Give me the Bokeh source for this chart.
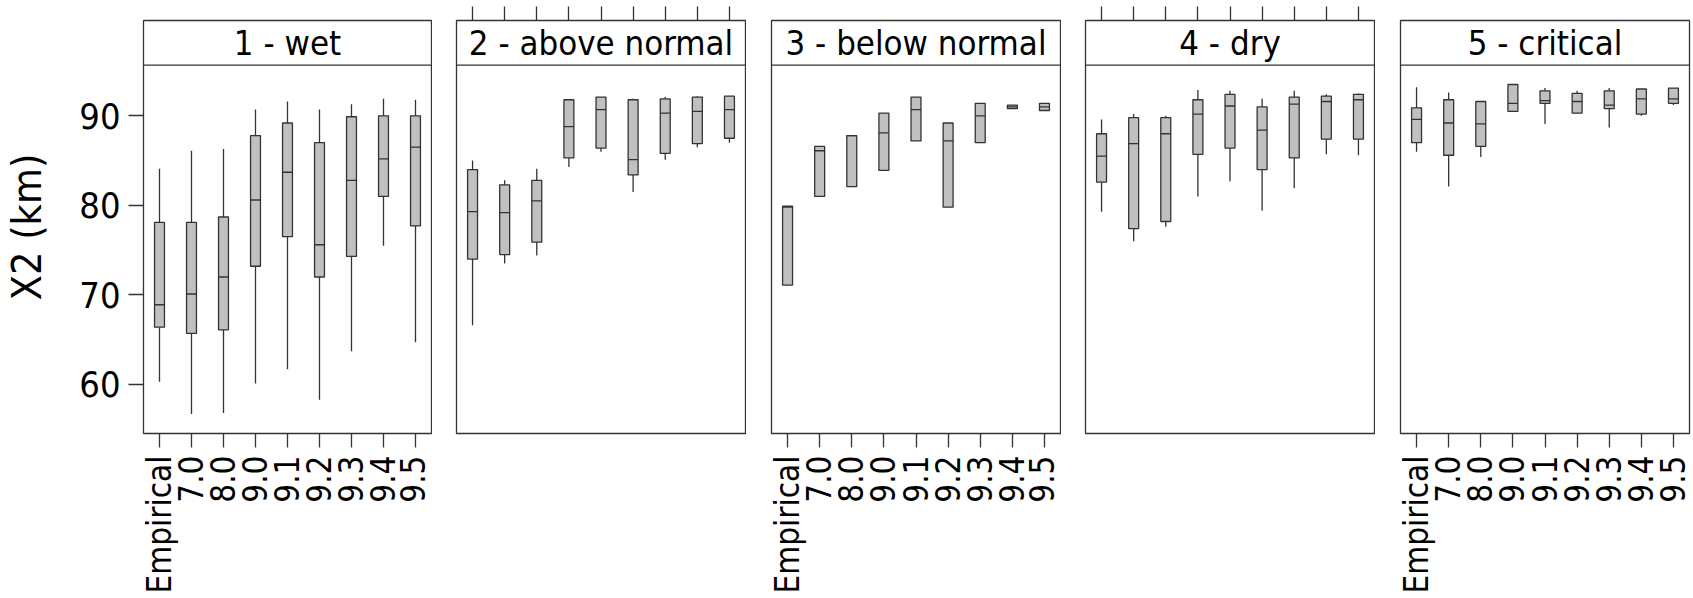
import numpy as np
from bokeh.plotting import figure
from bokeh.models import Range1d, FixedTicker, Span
from bokeh.layouts import row
from bokeh.embed import file_html
from bokeh.resources import INLINE
from bokeh.core.properties import value

categories = ["Empirical", "7.0", "8.0", "9.0", "9.1", "9.2", "9.3", "9.4", "9.5"]
panels = ["1 - wet", "2 - above normal", "3 - below normal", "4 - dry", "5 - critical"]
y_ticks = [60, 70, 80, 90]

# whisker low, lower quartile, median, upper quartile, whisker high
wet_lo  = [60.3, 56.7, 56.8, 60.1, 61.7, 58.3, 63.7, 75.5, 64.7]
wet_q1  = [66.4, 65.7, 66.1, 73.2, 76.5, 72.0, 74.3, 81.0, 77.7]
wet_med = [68.9, 70.1, 72.0, 80.6, 83.7, 75.6, 82.8, 85.2, 86.5]
wet_q3  = [78.1, 78.1, 78.7, 87.8, 89.2, 87.0, 89.9, 90.0, 90.0]
wet_hi  = [84.1, 86.1, 86.3, 90.7, 91.6, 90.7, 91.3, 91.9, 91.8]

an_lo  = [66.6, 73.5, 74.4, 84.3, 86.0, 81.5, 85.1, 86.5, 87.0]
an_q1  = [74.0, 74.5, 75.9, 85.3, 86.4, 83.4, 85.8, 86.9, 87.5]
an_med = [79.3, 79.2, 80.5, 88.8, 90.7, 85.1, 90.3, 90.5, 90.7]
an_q3  = [84.0, 82.3, 82.8, 91.8, 92.1, 91.8, 91.9, 92.1, 92.2]
an_hi  = [85.0, 82.8, 84.1, 91.8, 92.1, 91.9, 92.1, 92.2, 92.2]

bn_lo  = [71.1, 81.0, 82.1, 83.9, 87.2, 79.8, 87.0, 90.8, 90.6]
bn_q1  = [71.1, 81.0, 82.1, 83.9, 87.2, 79.8, 87.0, 90.8, 90.6]
bn_med = [79.8, 86.1, 87.8, 88.1, 90.7, 87.2, 90.0, 91.0, 91.0]
bn_q3  = [79.9, 86.6, 87.8, 90.3, 92.1, 89.2, 91.4, 91.2, 91.4]
bn_hi  = [79.9, 86.6, 87.8, 90.3, 92.1, 89.2, 91.4, 91.2, 91.4]

dry_lo  = [79.3, 76.0, 77.6, 81.0, 82.7, 79.4, 81.9, 85.7, 85.6]
dry_q1  = [82.6, 77.4, 78.2, 85.7, 86.4, 84.0, 85.3, 87.4, 87.4]
dry_med = [85.5, 86.9, 88.0, 90.2, 91.1, 88.4, 91.3, 91.6, 91.8]
dry_q3  = [88.0, 89.8, 89.8, 91.8, 92.4, 91.0, 92.1, 92.2, 92.4]
dry_hi  = [89.6, 90.2, 90.0, 92.9, 92.8, 91.9, 92.8, 92.4, 92.5]

crit_lo  = [86.0, 82.1, 85.4, 90.5, 89.1, 90.3, 88.7, 90.0, 91.2]
crit_q1  = [87.0, 85.6, 86.6, 90.5, 91.4, 90.3, 90.8, 90.2, 91.4]
crit_med = [89.6, 89.2, 89.1, 91.4, 91.7, 91.6, 91.2, 91.9, 91.9]
crit_q3  = [90.9, 91.8, 91.6, 93.5, 92.8, 92.5, 92.8, 93.0, 93.1]
crit_hi  = [93.2, 92.6, 91.6, 93.5, 93.1, 92.8, 93.1, 93.0, 93.1]

stats = [
    (wet_lo, wet_q1, wet_med, wet_q3, wet_hi),
    (an_lo, an_q1, an_med, an_q3, an_hi),
    (bn_lo, bn_q1, bn_med, bn_q3, bn_hi),
    (dry_lo, dry_q1, dry_med, dry_q3, dry_hi),
    (crit_lo, crit_q1, crit_med, crit_q3, crit_hi),
]

FONT = "DejaVu Sans Condensed"
DARK = "#333333"
FILL = "#c0c0c0"
LW = 1.3

y_lo, y_panel_top, y_strip_top = 54.52, 95.66, 100.65
frame_w, frame_h = 289, 413
top_b, bot_b = 20, 165
lefts = [142, 24, 25, 24, 25]
rights = [1, 1, 1, 1, 4]
xaxis_loc = ["below", "above", "below", "above", "below"]

xs = np.arange(1, len(categories) + 1, dtype=float)
half = 0.155

figs = []
for i, name in enumerate(panels):
    lo, q1, med, q3, hi = [np.array(a) for a in stats[i]]
    p = figure(
        width=lefts[i] + frame_w + rights[i],
        height=top_b + frame_h + bot_b,
        x_range=Range1d(0.5, len(categories) + 0.5),
        y_range=Range1d(y_lo, y_strip_top),
        output_backend="svg", toolbar_location=None,
        min_border_left=lefts[i], min_border_right=rights[i],
        min_border_top=top_b, min_border_bottom=bot_b,
        x_axis_location=xaxis_loc[i],
        y_axis_location="left" if i == 0 else None,
    )
    p.grid.grid_line_color = None
    p.outline_line_color = DARK
    p.outline_line_width = LW
    p.background_fill_color = "white"
    p.border_fill_color = "white"

    xa = p.xaxis[0]
    xa.ticker = FixedTicker(ticks=list(xs))
    xa.axis_line_color = None
    xa.major_tick_line_color = DARK
    xa.major_tick_line_width = LW
    xa.major_tick_in = 0
    xa.minor_tick_line_color = None
    if xaxis_loc[i] == "below":
        xa.major_label_overrides = {int(x): c for x, c in zip(xs, categories)}
        xa.major_tick_out = 14
        xa.major_label_orientation = np.pi / 2
        xa.major_label_text_font = FONT
        xa.major_label_text_font_size = "33px"
        xa.major_label_text_color = "black"
        xa.major_label_standoff = 8
    else:
        xa.major_label_overrides = {int(x): "" for x in xs}
        xa.major_tick_out = 14
        xa.major_label_text_font_size = "1px"
        xa.major_label_standoff = 0

    if i == 0:
        ya = p.yaxis[0]
        ya.ticker = FixedTicker(ticks=y_ticks)
        ya.axis_line_color = None
        ya.major_tick_line_color = DARK
        ya.major_tick_line_width = LW
        ya.major_tick_in = 0
        ya.major_tick_out = 15
        ya.minor_tick_line_color = None
        ya.major_label_text_font = FONT
        ya.major_label_text_font_size = "36px"
        ya.major_label_text_color = "black"
        ya.major_label_standoff = 8
        ya.axis_label = "X2 (km)"
        ya.axis_label_text_font = FONT
        ya.axis_label_text_font_size = "41px"
        ya.axis_label_text_font_style = "normal"
        ya.axis_label_text_color = "black"
        ya.axis_label_standoff = 25

    # whiskers
    p.segment(x0=xs, y0=q3, x1=xs, y1=hi, line_color=DARK, line_width=LW)
    p.segment(x0=xs, y0=lo, x1=xs, y1=q1, line_color=DARK, line_width=LW)
    # boxes
    p.vbar(x=xs, width=2 * half, bottom=q1, top=q3,
           fill_color=FILL, line_color=DARK, line_width=LW)
    # medians
    p.segment(x0=xs - half, y0=med, x1=xs + half, y1=med,
              line_color=DARK, line_width=LW)

    # strip
    p.add_layout(Span(location=y_panel_top, dimension="width",
                      line_color=DARK, line_width=LW))
    p.text(x=[(len(categories) + 1) / 2], y=[(y_panel_top + y_strip_top) / 2],
           text=[name], text_align="center", text_baseline="middle",
           text_font=value(FONT), text_font_size="34.5px", text_color="black")
    figs.append(p)

layout = row(*figs)
open("out.html", "w").write(file_html(layout, INLINE))
